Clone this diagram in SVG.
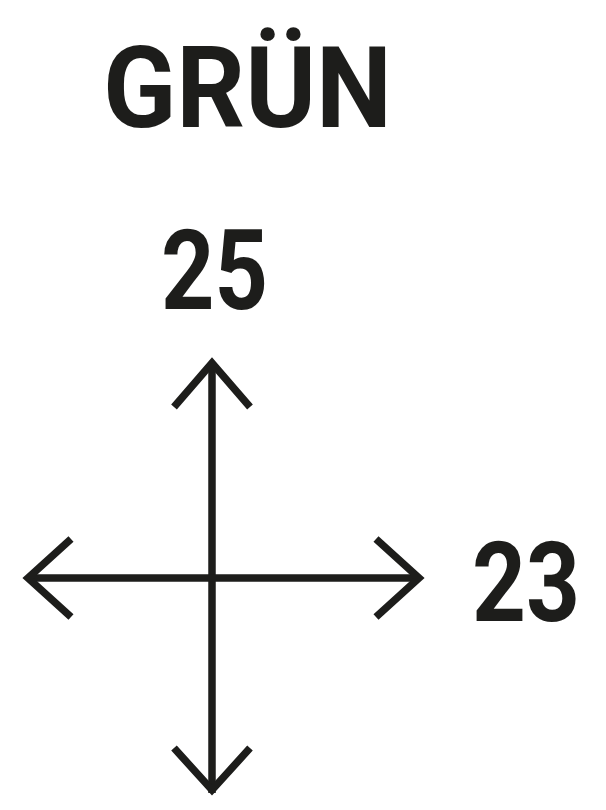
<svg xmlns="http://www.w3.org/2000/svg" width="606" height="810" viewBox="0 0 606 810">
<style>
.t{font-family:Roboto,"Liberation Sans",sans-serif;font-weight:700;fill:#1d1d1b}
.c{fill:none;stroke:#1d1d1b;stroke-width:7.5;stroke-linecap:butt;stroke-linejoin:miter}
</style>
<rect width="606" height="810" fill="#fff"/>
<g id="title"><text class="t" x="103" y="127" font-size="114" textLength="289" lengthAdjust="spacingAndGlyphs">GRÜN</text></g>
<g id="label-top"><text class="t" x="161" y="309" font-size="112" textLength="107" lengthAdjust="spacingAndGlyphs">25</text></g>
<g id="label-right"><text class="t" x="472" y="621" font-size="112" textLength="108" lengthAdjust="spacingAndGlyphs">23</text></g>
<g id="connectors">
<path class="c" d="M212 362 V793"/>
<path class="c" d="M27 578 H420"/>
<path class="c" d="M174 407 L212 363 L250 407"/>
<path class="c" d="M174 748 L212 790 L250 748"/>
<path class="c" d="M71 539 L28 578 L71 617"/>
<path class="c" d="M376 539 L419 578 L376 617"/>
</g>
</svg>
